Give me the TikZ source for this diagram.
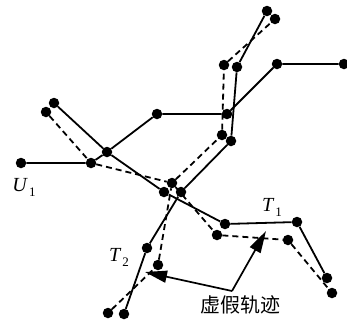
\documentclass[tikz,border=0pt]{standalone}
\usepackage{fontspec}
\setmainfont{Liberation Serif}
\newfontfamily\cjk{Noto Sans CJK SC}
\usetikzlibrary{arrows.meta,backgrounds}
\begin{document}
\begin{tikzpicture}[x=1pt,y=-1pt,
  dot/.style={circle,fill=black,inner sep=0pt,minimum size=10.5pt},
  real/.style={line width=1.8pt},
  fake/.style={line width=1.8pt,dash pattern=on 6pt off 4pt},
  pointer/.style={line width=1.7pt,-{Triangle[length=22pt,width=12pt]}},
  lbl/.style={font=\fontsize{20}{20}\selectfont\itshape,inner sep=0pt}
]
\useasboundingbox (0,0) rectangle (347,325);
% dots
\node[dot] (u0) at (21,163) {};
\node[dot] (a)  at (91,163) {};
\node[dot] (b)  at (107,152) {};
\node[dot] (u3) at (157,114) {};
\node[dot] (u4) at (227,114) {};
\node[dot] (u5) at (277,64) {};
\node[dot] (u6) at (344,64) {};
\node[dot] (t1a) at (54,103) {};
\node[dot] (t1c) at (164,192) {};
\node[dot] (t1d) at (225,224) {};
\node[dot] (t1e) at (297,222) {};
\node[dot] (t1f) at (327,278) {};
\node[dot] (t2a) at (124,314) {};
\node[dot] (t2b) at (147,248) {};
\node[dot] (t2c) at (181,192) {};
\node[dot] (t2d) at (231,141) {};
\node[dot] (t2e) at (237,67) {};
\node[dot] (t2f) at (267,11) {};
\node[dot] (f1a) at (46,112) {};
\node[dot] (m)   at (172,183) {};
\node[dot] (f1d) at (217,235) {};
\node[dot] (f1e) at (288,240) {};
\node[dot] (f1f) at (332,293) {};
\node[dot] (f2a) at (108,313) {};
\node[dot] (f2b) at (158,265) {};
\node[dot] (f2d) at (222,135) {};
\node[dot] (f2e) at (224,65) {};
\node[dot] (f2f) at (275,19) {};
% trajectories
\begin{scope}[on background layer]
\draw[real] (u0) -- (a) -- (b) -- (u3) -- (u4) -- (u5) -- (u6);
\draw[real] (t1a) -- (b) -- (t1c) -- (t1d) -- (t1e) -- (t1f);
\draw[real] (t2a) -- (t2b) -- (t2c) -- (t2d) -- (t2e) -- (t2f);
\draw[fake] (f1a) -- (a) -- (m) -- (f1d) -- (f1e) -- (f1f);
\draw[fake] (f2a) -- (f2b) -- (m) -- (f2d) -- (f2e) -- (f2f);
\end{scope}
% labels
\node[lbl] (lu) at (24,187) {U\raisebox{-5pt}{\normalfont\fontsize{13}{13}\selectfont\,1}};
\node[lbl] (lt1) at (272,207) {T\raisebox{-5pt}{\normalfont\fontsize{13}{13}\selectfont\,1}};
\node[lbl] (lt2) at (119,257) {T\raisebox{-5pt}{\normalfont\fontsize{13}{13}\selectfont\,2}};
\node[font=\cjk\fontsize{20}{20}\selectfont,inner sep=0pt] (fk) at (240,305) {虚假轨迹};
% pointers
\coordinate (j) at (232,291);
\coordinate (pa) at (145,272);
\coordinate (pb) at (266,231);
\draw[pointer] (j) -- (pa);
\draw[pointer] (j) -- (pb);
\end{tikzpicture}
\end{document}
